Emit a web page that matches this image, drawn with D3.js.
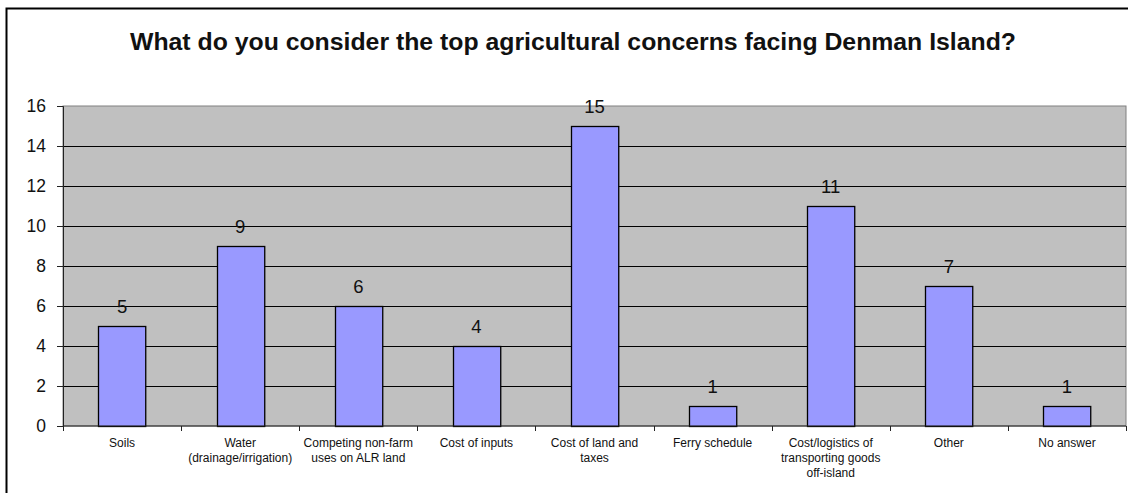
<!DOCTYPE html>
<html>
<head>
<meta charset="utf-8">
<script src="https://cdn.jsdelivr.net/npm/d3@7"></script>
<style>
  body { margin: 0; background: #fff; }
  svg { display: block; font-family: "Liberation Sans", Arial, sans-serif; }
</style>
</head>
<body>
<svg id="chart" width="1128" height="493"></svg>
<script>
// survey answers
var categories = [
  ["Soils"],
  ["Water", "(drainage/irrigation)"],
  ["Competing non-farm", "uses on ALR land"],
  ["Cost of inputs"],
  ["Cost of land and", "taxes"],
  ["Ferry schedule"],
  ["Cost/logistics of", "transporting goods", "off-island"],
  ["Other"],
  ["No answer"]
];
var counts = [5, 9, 6, 4, 15, 1, 11, 7, 1];
var yTicks = [0, 2, 4, 6, 8, 10, 12, 14, 16];
var title = "What do you consider the top agricultural concerns facing Denman Island?";

var svg = d3.select("#chart"),
    margin = {top: 106, right: 2, bottom: 67, left: 63},
    width = +svg.attr("width") - margin.left - margin.right,
    height = +svg.attr("height") - margin.top - margin.bottom;

// outer chart frame
svg.append("rect")
  .attr("x", 6.5).attr("y", 8.5)
  .attr("width", 1130).attr("height", 500)
  .attr("fill", "none").attr("stroke", "#000").attr("stroke-width", 2);

svg.append("text")
  .attr("x", 573).attr("y", 50)
  .attr("text-anchor", "middle")
  .style("font-size", "24.8px").style("font-weight", "bold")
  .attr("fill", "#111")
  .text(title);

var g = svg.append("g")
  .attr("transform", "translate(" + margin.left + "," + margin.top + ")");

var x_scale = d3.scaleBand()
  .domain(d3.range(categories.length))
  .range([0, width])
  .paddingInner(0.6).paddingOuter(0.3);

var x_cat = d3.scalePoint()
  .domain(d3.range(categories.length + 1))
  .range([0, width]);

var y_scale = d3.scaleLinear()
  .domain([0, 16])
  .range([height, 0]);

g.append("rect")
  .attr("width", width).attr("height", height)
  .attr("fill", "#c0c0c0").attr("stroke", "#808080");

// gridlines
g.selectAll(".grid").data(yTicks.slice(1, -1)).enter()
  .append("line")
  .attr("x1", 0).attr("x2", width)
  .attr("y1", function(d) { return Math.round(y_scale(d)) + 0.5; })
  .attr("y2", function(d) { return Math.round(y_scale(d)) + 0.5; })
  .attr("stroke", "#000");

g.selectAll(".bar").data(counts).enter()
  .append("rect")
  .attr("class", "bar")
  .attr("x", function(d, i) { return Math.round(x_scale(i)) + 0.5; })
  .attr("y", function(d) { return Math.round(y_scale(d)) + 0.5; })
  .attr("width", x_scale.bandwidth())
  .attr("height", function(d) { return Math.round(height - y_scale(d)); })
  .attr("fill", "#9999ff").attr("stroke", "#000").attr("stroke-width", 1.3);

g.selectAll(".val").data(counts).enter()
  .append("text")
  .attr("x", function(d, i) { return x_scale(i) + x_scale.bandwidth() / 2; })
  .attr("y", function(d) { return y_scale(d) - 13; })
  .attr("text-anchor", "middle")
  .style("font-size", "18.5px")
  .attr("fill", "#111")
  .text(function(d) { return d; });

// y axis
var y_axis = d3.axisLeft(y_scale).tickValues(yTicks).tickSize(6).tickPadding(11);
var ya = g.append("g").call(y_axis);
ya.select(".domain").attr("stroke", "#222");
ya.selectAll(".tick line").attr("stroke", "#222");
ya.selectAll("text").style("font-size", "17.5px").attr("fill", "#111")
  .style("font-family", "Liberation Sans, Arial, sans-serif");

// x axis: tick marks between categories
var xa = g.append("g").attr("transform", "translate(0," + height + ")");
xa.append("line").attr("x1", 0).attr("x2", width).attr("stroke", "#222");
xa.selectAll(".tk").data(x_cat.domain()).enter()
  .append("line")
  .attr("x1", function(d) { return Math.round(x_cat(d)) + 0.5; })
  .attr("x2", function(d) { return Math.round(x_cat(d)) + 0.5; })
  .attr("y1", 0).attr("y2", 5).attr("stroke", "#222");

var labels = xa.selectAll(".lab").data(categories).enter()
  .append("text")
  .attr("text-anchor", "middle")
  .attr("transform", function(d, i) {
    return "translate(" + (x_scale(i) + x_scale.bandwidth() / 2) + ",21)";
  })
  .style("font-size", "12px")
  .attr("fill", "#111");

labels.selectAll("tspan").data(function(d) { return d; }).enter()
  .append("tspan")
  .attr("x", 0)
  .attr("y", function(d, i) { return i * 15; })
  .text(function(d) { return d; });
</script>
</body>
</html>
